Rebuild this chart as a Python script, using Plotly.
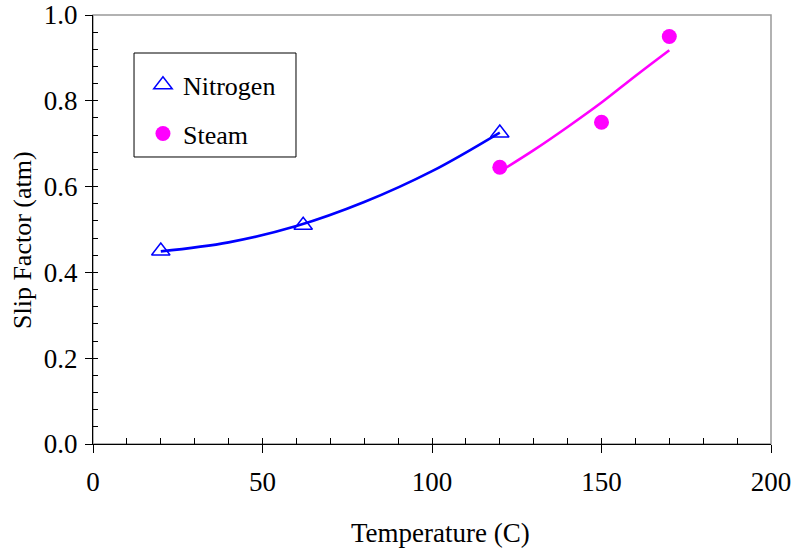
import plotly.graph_objects as go

# Measured slip factors
nitrogen_temp = [20, 62, 120]
nitrogen_slip = [0.45, 0.51, 0.725]

steam_temp = [120, 150, 170]
steam_slip = [0.645, 0.75, 0.95]

# Fitted trend curves
nitrogen_fit_temp = [20, 40, 60, 80, 100, 120]
nitrogen_fit_slip = [0.449, 0.470, 0.508, 0.564, 0.636, 0.726]

steam_fit_temp = [120, 130, 140, 150, 160, 170]
steam_fit_slip = [0.635, 0.685, 0.739, 0.796, 0.858, 0.918]

x_ticks = [0, 50, 100, 150, 200]
y_ticks = [0.0, 0.2, 0.4, 0.6, 0.8, 1.0]

BLUE = "#0000FF"
MAGENTA = "#FF00FF"
FONT = "Liberation Serif, Times New Roman, serif"

fig = go.Figure()

fig.add_trace(go.Scatter(
    x=nitrogen_fit_temp, y=nitrogen_fit_slip, mode="lines",
    line=dict(color=BLUE, width=2.6, shape="spline"),
    showlegend=False, hoverinfo="skip"))
fig.add_trace(go.Scatter(
    x=steam_fit_temp, y=steam_fit_slip, mode="lines",
    line=dict(color=MAGENTA, width=2.6, shape="spline"),
    showlegend=False, hoverinfo="skip"))

fig.add_trace(go.Scatter(
    x=nitrogen_temp, y=nitrogen_slip, mode="markers", name="Nitrogen",
    legendgroup="n",
    marker=dict(symbol="triangle-up-open", size=16, color=BLUE,
                line=dict(color=BLUE, width=1.5))))
fig.add_trace(go.Scatter(
    x=steam_temp, y=steam_slip, mode="markers", name="Steam",
    legendgroup="s",
    marker=dict(symbol="circle", size=15, color=MAGENTA,
                line=dict(width=0))))

# invisible trace so the overlay axes (inner tick marks) are rendered
fig.add_trace(go.Scatter(x=[None], y=[None], xaxis="x2", yaxis="y2",
                         showlegend=False, hoverinfo="skip"))

fig.update_layout(
    width=795, height=548,
    margin=dict(l=93, r=24, t=15, b=104, autoexpand=False),
    paper_bgcolor="white", plot_bgcolor="white",
    font=dict(family=FONT, size=26, color="black"),
    showlegend=True,
    legend=dict(
        x=0.0737, y=0.892, xanchor="left", yanchor="top",
        borderwidth=0, bgcolor="rgba(0,0,0,0)",
        font=dict(family=FONT, size=26, color="black"),
        tracegroupgap=12, itemsizing="trace",
    ),
    xaxis=dict(
        range=[0, 200], tickvals=x_ticks, ticks="outside", ticklen=8,
        tickwidth=1, tickcolor="black", showline=True, linecolor="black",
        linewidth=1, showgrid=False, zeroline=False, automargin=False,
        tickfont=dict(family=FONT, size=27), ticklabelstandoff=6,
    ),
    yaxis=dict(
        range=[0, 1], tickvals=y_ticks, tickformat=".1f", ticks="outside",
        ticklen=7, tickwidth=1, tickcolor="black", showline=True,
        linecolor="black", linewidth=1, showgrid=False, zeroline=False,
        automargin=False,
        tickfont=dict(family=FONT, size=27), ticklabelstandoff=2,
    ),
    xaxis2=dict(
        overlaying="x", anchor="y2", range=[0, 200], dtick=10, tick0=0,
        ticks="inside", ticklen=6, tickwidth=1, tickcolor="black",
        showticklabels=False, showline=False, showgrid=False, zeroline=False,
        automargin=False,
    ),
    yaxis2=dict(
        overlaying="y", anchor="x2", range=[0, 1], dtick=0.04, tick0=0,
        ticks="inside", ticklen=5, tickwidth=1, tickcolor="black",
        showticklabels=False, showline=False, showgrid=False, zeroline=False,
        automargin=False,
    ),
    annotations=[
        dict(text="Temperature (C)", showarrow=False,
             xref="paper", yref="paper", x=0.512, y=-0.2075,
             xanchor="center", yanchor="middle",
             font=dict(family=FONT, size=27, color="black")),
        dict(text="Slip Factor (atm)", textangle=-90, showarrow=False,
             xref="paper", yref="paper", x=-0.1047, y=0.4755,
             xanchor="center", yanchor="middle",
             font=dict(family=FONT, size=26, color="black")),
    ],
    shapes=[
        # grey frame on the top and right of the plotting area
        dict(type="rect", xref="paper", yref="paper", x0=0, y0=0,
             x1=1, y1=1, line=dict(color="#999999", width=1.5),
             layer="below"),
        # legend box
        dict(type="rect", xref="paper", yref="paper", x0=0.0605, y0=0.669,
             x1=0.2994, y1=0.9114, line=dict(color="black", width=1),
             fillcolor="rgba(0,0,0,0)", layer="above"),
    ],
)

fig.write_html("out.html")
